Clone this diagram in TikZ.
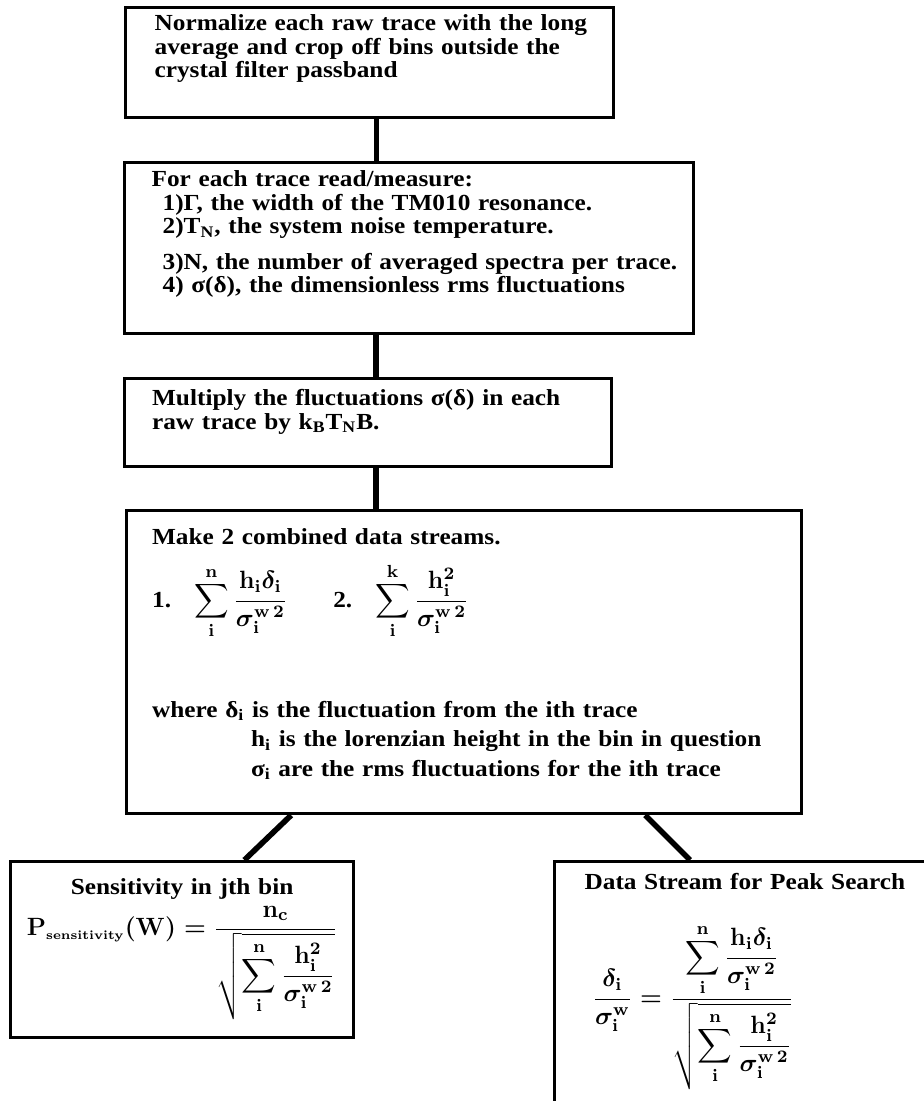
\RequirePackage{fix-cm}
\documentclass[tikz,border=0pt]{standalone}
\usepackage{amsmath}
\usepackage{fontspec}
\setmainfont{Liberation Serif}[FakeStretch=1.10]
\usepackage{tikz}
\usetikzlibrary{calc,positioning}
\tikzset{
  stage/.style={draw,line width=1.6pt,anchor=north west,inner xsep=3pt,inner ysep=3pt,
    align=left,font=\fontsize{11.5}{11.8}\selectfont\bfseries\boldmath},
  link/.style={line width=2.8pt}
}
\newcommand{\eqsize}{\fontsize{12.5}{14}\selectfont}

\begin{document}
\begin{tikzpicture}[x=1pt,y=1pt]
  \useasboundingbox (0,0) rectangle (462,-550.5);
  \clip (0,0) rectangle (462,-550.5);
  \node[stage,minimum width=244pt,minimum height=55pt,text width=238pt] (normalize) at (62,-3)
    {\hspace*{11.5pt}Normalize each raw trace with the long\\
     \hspace*{11.5pt}average and crop off bins outside the\\
     \hspace*{11.5pt}crystal filter passband\vspace{14pt}};
  \node[stage,minimum width=284.5pt,minimum height=85.5pt,text width=284.5pt,inner xsep=0pt] (measure) at (61.5,-80.5)
    {\hspace*{13.5pt}For each trace read/measure:\\
     \hspace*{19pt}1)Γ, the width of the TM010 resonance.\\
     \hspace*{19pt}2)T\textsubscript{N}, the system noise temperature.\\[6pt]
     \hspace*{19pt}3)N, the number of averaged spectra per trace.\\
     \hspace*{19pt}4) σ(δ), the dimensionless rms fluctuations\vspace{14pt}};
  \node[stage,minimum width=243.5pt,minimum height=44pt,text width=237pt] (multiply) at (61.5,-188.5)
    {\hspace*{10.5pt}Multiply the fluctuations σ(δ) in each\\
     \hspace*{10.5pt}raw trace by k\textsubscript{B}T\textsubscript{N}B.\vspace{11pt}};
  \node[stage,minimum width=337.5pt,minimum height=151.5pt,text width=331pt] (streams) at (62.5,-254.5)
    {\hspace*{9.5pt}Make 2 combined data streams.\\[8pt]
     \hspace*{9.5pt}1.\quad{\eqsize$\displaystyle\mathbf{\sum_i^n\frac{h_i\delta_i}{\sigma_i^{w\,2}}}$}\qquad
     2.\quad{\eqsize$\displaystyle\mathbf{\sum_i^k\frac{h_i^2}{\sigma_i^{w\,2}}}$}\\[30pt]
     \hspace*{9.5pt}where δ\textsubscript{i} is the fluctuation from the ith trace\\[3pt]
     \hspace*{59pt}h\textsubscript{i} is the lorenzian height in the bin in question\\[3pt]
     \hspace*{59pt}σ\textsubscript{i} are the rms fluctuations for the ith trace\vspace{8pt}};
  \node[stage,minimum width=171.5pt,minimum height=88pt,text width=165pt,
    inner ysep=2pt,align=center] (sensitivity) at (4.5,-430)
    {Sensitivity in jth bin\\[2pt]
     {\eqsize$\mathbf{P_{\scriptscriptstyle sensitivity}(W)=\dfrac{n_c}{\sqrt{\displaystyle\sum_i^n\frac{h_i^2}{\sigma_i^{w\,2}}}}}$}};
  \node[stage,minimum width=210pt,text width=204pt,inner ysep=6pt] (peak) at (276.5,-430)
    {\hspace*{12pt}Data Stream for Peak Search\\[16pt]
     \hspace*{16pt}{\eqsize$\mathbf{\dfrac{\delta_i}{\sigma_i^{w}}=\dfrac{\displaystyle\sum_i^n\frac{h_i\delta_i}{\sigma_i^{w\,2}}}{\sqrt{\displaystyle\sum_i^n\frac{h_i^2}{\sigma_i^{w\,2}}}}}$}\vspace{36pt}};
  % connectors
  \draw[link] ([xshift=3.5pt]normalize.south) -- ([xshift=3.5pt]normalize.south |- measure.north);
  \draw[link] ([xshift=4pt]multiply.north |- measure.south) -- ([xshift=4pt]multiply.north);
  \draw[link] ([xshift=4pt]multiply.south) -- ([xshift=4pt]multiply.south |- streams.north);
  \draw[link] ($(streams.south west)!0.245!(streams.south east)$) -- ($(sensitivity.north west)!0.68!(sensitivity.north east)$);
  \draw[link] ($(streams.south west)!0.767!(streams.south east)$) -- ([xshift=68.5pt]peak.north west);
\end{tikzpicture}
\end{document}
